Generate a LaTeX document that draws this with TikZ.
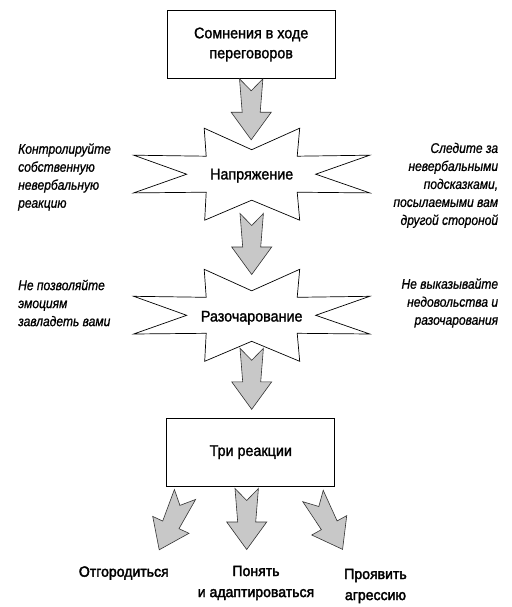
\documentclass[tikz,border=0pt]{standalone}
\usepackage{fontspec}
\setmainfont{Liberation Sans}
\newfontfamily\condfont{Liberation Sans}[FakeStretch=0.93,FakeBold=1.5]
\newfontfamily\sidefont{Liberation Sans}[FakeStretch=0.86,FakeBold=0.8]
\newfontfamily\outfont{Liberation Sans}[FakeStretch=0.95,FakeBold=2.5]
\usetikzlibrary{calc}
\definecolor{arrowgray}{RGB}{200,200,200}
\tikzset{
  boxnode/.style={draw=black,line width=1pt,minimum width=167.7pt,minimum height=67.6pt,inner sep=0pt,
    font=\condfont\fontsize{15.4}{20}\selectfont,align=center},
  burstlabel/.style={inner sep=0pt,font=\condfont\fontsize{15.4}{18}\selectfont},
  sidetext/.style={inner sep=0pt,font=\sidefont\itshape\fontsize{14}{18}\selectfont},
  outtext/.style={inner sep=0pt,font=\outfont\fontsize{14.8}{21}\selectfont,align=center},
  burstline/.style={draw=black,line width=0.7pt,fill=white,line join=miter},
  arrowshape/.style={draw=black!80,line width=0.6pt,fill=arrowgray,line join=miter},
  pics/burst/.style={code={
    \path[burstline] (-118,-19)--(-45.5,-18)--(-47.5,-46)--(0,-24.5)--(48,-46)--(45.5,-18)
      --(118,-19)--(64,0)--(118,18.7)--(45.5,18)--(48,46)--(0,26)--(-47,46)--(-45.5,18)
      --(-118,18.7)--(-65,0)--cycle;}},
  pics/blockarrow/.style={code={
    \path[arrowshape] (-11.7,0)--(0,12)--(11.7,0)--(9,33.5)--(20,33.5)--(0,61)
      --(-20,33.5)--(-9,33.5)--cycle;}},
}
\begin{document}
\begin{tikzpicture}[x=1pt,y=-1pt]
\useasboundingbox (0,0) rectangle (511,607);
\fill[white] (0,0) rectangle (511,607);

% top box
\node[boxnode] (doubt) at (251.2,44.5) {Сомнения в ходе\\переговоров};

% bursts
\coordinate (s1) at (251.7,174.2);
\coordinate (s2) at (251.7,315.3);
\pic at (s1) {burst};
\pic at (s2) {burst};
\node[burstlabel,anchor=base] (tension) at ($(s1)+(0,5.2)$) {Напряжение};
\node[burstlabel,anchor=base] (frustr) at ($(s2)+(0,6.2)$) {Разочарование};

% bottom box
\node[boxnode] (three) at (250.8,452.2) {Три реакции};

% vertical block arrows
\pic at (doubt.south) {blockarrow};
\pic at ($(s1)+(0,39.3)$) {blockarrow};
\pic at ($(s2)+(0,33)$) {blockarrow};

% three outgoing block arrows
\pic[rotate=-25] at ($(three.south)+(-65.8,8)$) {blockarrow};
\pic at ($(three.south)+(-4.1,2)$) {blockarrow};
\pic[rotate=29] at ($(three.south)+(62.2,9.5)$) {blockarrow};

% side texts
\node[sidetext,anchor=west,align=left] (ctrl) at (18,177) {Контролируйте\\собственную\\невербальную\\реакцию};
\node[sidetext,anchor=west,align=left] (emo) at (18,303) {Не позволяйте\\эмоциям\\завладеть вами};
\node[sidetext,anchor=east,align=right] (watch) at (498.3,185.3) {Следите за\\невербальными\\подсказками,\\посылаемыми вам\\другой стороной};
\node[sidetext,anchor=east,align=right] (hide) at (498.3,303) {Не выказывайте\\недовольства и\\разочарования};

% outcomes
\node[outtext,anchor=base] (fence) at (123.8,576.7) {Отгородиться};
\node[outtext] (adapt) at (256,583) {Понять\\и адаптироваться};
\node[outtext] (aggr) at (375.5,586) {Проявить\\агрессию};
\end{tikzpicture}
\end{document}
